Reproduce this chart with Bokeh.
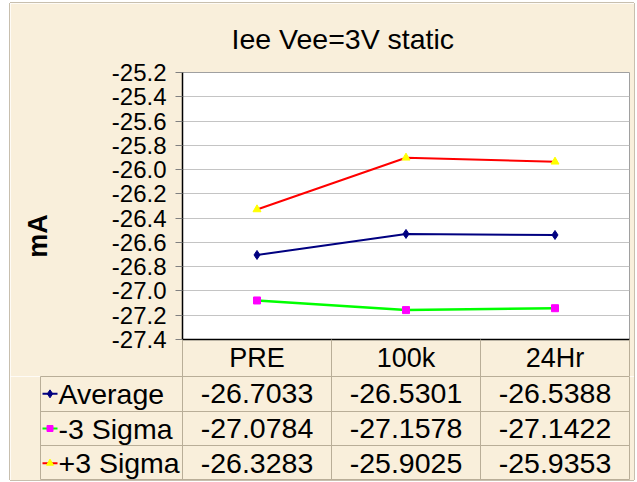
import math
from bokeh.plotting import figure
from bokeh.models import Range1d, FixedTicker, NumeralTickFormatter
from bokeh.core.properties import value
from bokeh.embed import file_html
from bokeh.resources import INLINE

# ---------------- data ----------------
title = "Iee Vee=3V static"
y_label = "mA"
categories = ["PRE", "100k", "24Hr"]
series_names = ["Average", "-3 Sigma", "+3 Sigma"]
average = [-26.7033, -26.5301, -26.5388]
minus_3_sigma = [-27.0784, -27.1578, -27.1422]
plus_3_sigma = [-26.3283, -25.9025, -25.9353]
y_ticks = [-27.4, -27.2, -27.0, -26.8, -26.6, -26.4, -26.2, -26.0, -25.8, -25.6, -25.4, -25.2]

# ---------------- styles ----------------
FONT = "Liberation Sans"
BG = "#f9efdb"
TABLE_LINE = "#b9ae98"
FRAME_LINE = "#c8bfae"
W = 624
LEFT1 = 172          # frame left of chart (canvas px)
LEFT2 = 30           # frame left of table (legend column)
RIGHT = 5
TOP1 = 69
H1 = 373
HEADER = 37
H2 = 104
n = len(categories)
px_per_unit = (W - LEFT1 - RIGHT) / n
legend_w = (LEFT1 - LEFT2) / px_per_unit

series = [
    dict(name=series_names[0], vals=average, color="#000080", lw=2, marker="diamond", mfill="#000080", msize=9),
    dict(name=series_names[1], vals=minus_3_sigma, color="#00ff00", lw=2.5, marker="square", mfill="#ff00ff", msize=7),
    dict(name=series_names[2], vals=plus_3_sigma, color="#ff0000", lw=2, marker="triangle", mfill="#ffff00", msize=8),
]

xs = [i + 0.5 for i in range(n)]

# ---------------- chart ----------------
p1 = figure(width=W, height=H1, x_range=Range1d(0, n), y_range=Range1d(y_ticks[0], y_ticks[-1]),
            output_backend="svg", toolbar_location=None,
            min_border_left=LEFT1, min_border_right=RIGHT, min_border_top=TOP1,
            min_border_bottom=HEADER, margin=(3, 0, 0, 10))
p1.styles = {"box-shadow": f"-1px 0 0 0 {FRAME_LINE}, 1px 0 0 0 {FRAME_LINE}, 0 -1px 0 0 {FRAME_LINE}"}
p1.background_fill_color = "white"
p1.border_fill_color = BG
p1.outline_line_color = "#a0a0a0"

p1.title.text = title
p1.title.align = "left"
p1.title.vertical_align = "top"
p1.title.offset = 49
p1.title.standoff = 31
p1.title.text_font = FONT
p1.title.text_font_size = "28.5px"
p1.title.text_font_style = "normal"
p1.title.text_color = "black"

p1.xgrid.visible = False
p1.ygrid.ticker = FixedTicker(ticks=y_ticks)
p1.ygrid.grid_line_color = "#c4c4c4"

ya = p1.yaxis[0]
ya.ticker = FixedTicker(ticks=y_ticks, minor_ticks=[])
ya.formatter = NumeralTickFormatter(format="0.0")
ya.major_label_text_font = FONT
ya.major_label_text_font_size = "24px"
ya.major_label_text_color = "black"
ya.major_tick_out = 7
ya.major_tick_in = 0
ya.major_tick_line_color = "#808080"
ya.minor_tick_line_color = None
ya.axis_line_color = "black"
ya.axis_line_width = 1.5
ya.major_label_standoff = 9
# axis title: trailing no-break spaces shift the visible "mA" below the frame centre, as in the original
ya.axis_label = y_label + "\u00a0" * 8
ya.axis_label_text_font = FONT
ya.axis_label_text_font_size = "27px"
ya.axis_label_text_font_style = "bold"
ya.axis_label_text_color = "black"
ya.axis_label_standoff = 56

xa = p1.xaxis[0]
xa.ticker = FixedTicker(ticks=xs, minor_ticks=list(range(n + 1)))
xa.major_label_overrides = {x: c for x, c in zip(xs, categories)}
xa.major_label_text_font = FONT
xa.major_label_text_font_size = "27px"
xa.major_label_text_color = "black"
xa.major_tick_out = 0
xa.major_tick_in = 0
xa.minor_tick_in = 0
xa.minor_tick_out = HEADER
xa.minor_tick_line_color = TABLE_LINE
xa.axis_line_color = "black"
xa.axis_line_width = 1.5
xa.major_label_standoff = 3 - HEADER

for s in series:
    p1.line(xs, s["vals"], line_color=s["color"], line_width=s["lw"])
    p1.scatter(xs, s["vals"], marker=s["marker"], size=s["msize"],
               fill_color=s["mfill"], line_color=s["mfill"])

# ---------------- data table ----------------
nr = len(series)
p2 = figure(width=W, height=H2, x_range=Range1d(-legend_w, n), y_range=Range1d(0, nr),
            output_backend="svg", toolbar_location=None,
            x_axis_location=None, y_axis_location=None,
            min_border_left=LEFT2, min_border_right=RIGHT, min_border_top=0, min_border_bottom=0,
            margin=(0, 0, 0, 10))
p2.styles = {"box-shadow": f"-1px 0 0 0 {FRAME_LINE}, 1px 0 0 0 {FRAME_LINE}, 0 1px 0 0 {FRAME_LINE}"}
p2.background_fill_color = BG
p2.border_fill_color = BG
p2.outline_line_color = TABLE_LINE
p2.xgrid.ticker = FixedTicker(ticks=list(range(n)))
p2.ygrid.ticker = FixedTicker(ticks=list(range(1, nr)))
p2.xgrid.grid_line_color = TABLE_LINE
p2.ygrid.grid_line_color = TABLE_LINE

tx, ty, tt = [], [], []
for r, s in enumerate(series):
    yc = nr - r - 0.5
    for i, v in enumerate(s["vals"]):
        tx.append(xs[i]); ty.append(yc); tt.append(f"{v:.4f}")
p2.text(x=tx, y=ty, text=tt, text_align="center", text_baseline="middle",
        text_font=value(FONT), text_font_size="28.5px", text_color="black")

lx = [-legend_w + 18 / px_per_unit] * nr
ly = [nr - r - 0.5 for r in range(nr)]
p2.text(x=lx, y=ly, text=[s["name"] for s in series], text_align="left", text_baseline="middle",
        text_font=value(FONT), text_font_size="28.5px", text_color="black")

x0 = -legend_w + 2 / px_per_unit
x1 = -legend_w + 17 / px_per_unit
for r, s in enumerate(series):
    yc = nr - r - 0.5
    p2.segment(x0=[x0], y0=[yc], x1=[x1], y1=[yc], line_color=s["color"], line_width=2)
    p2.scatter([(x0 + x1) / 2], [yc], marker=s["marker"], size=s["msize"] - 1,
               fill_color=s["mfill"], line_color=s["mfill"])

open("out.html", "w").write(file_html([p1, p2], INLINE))
